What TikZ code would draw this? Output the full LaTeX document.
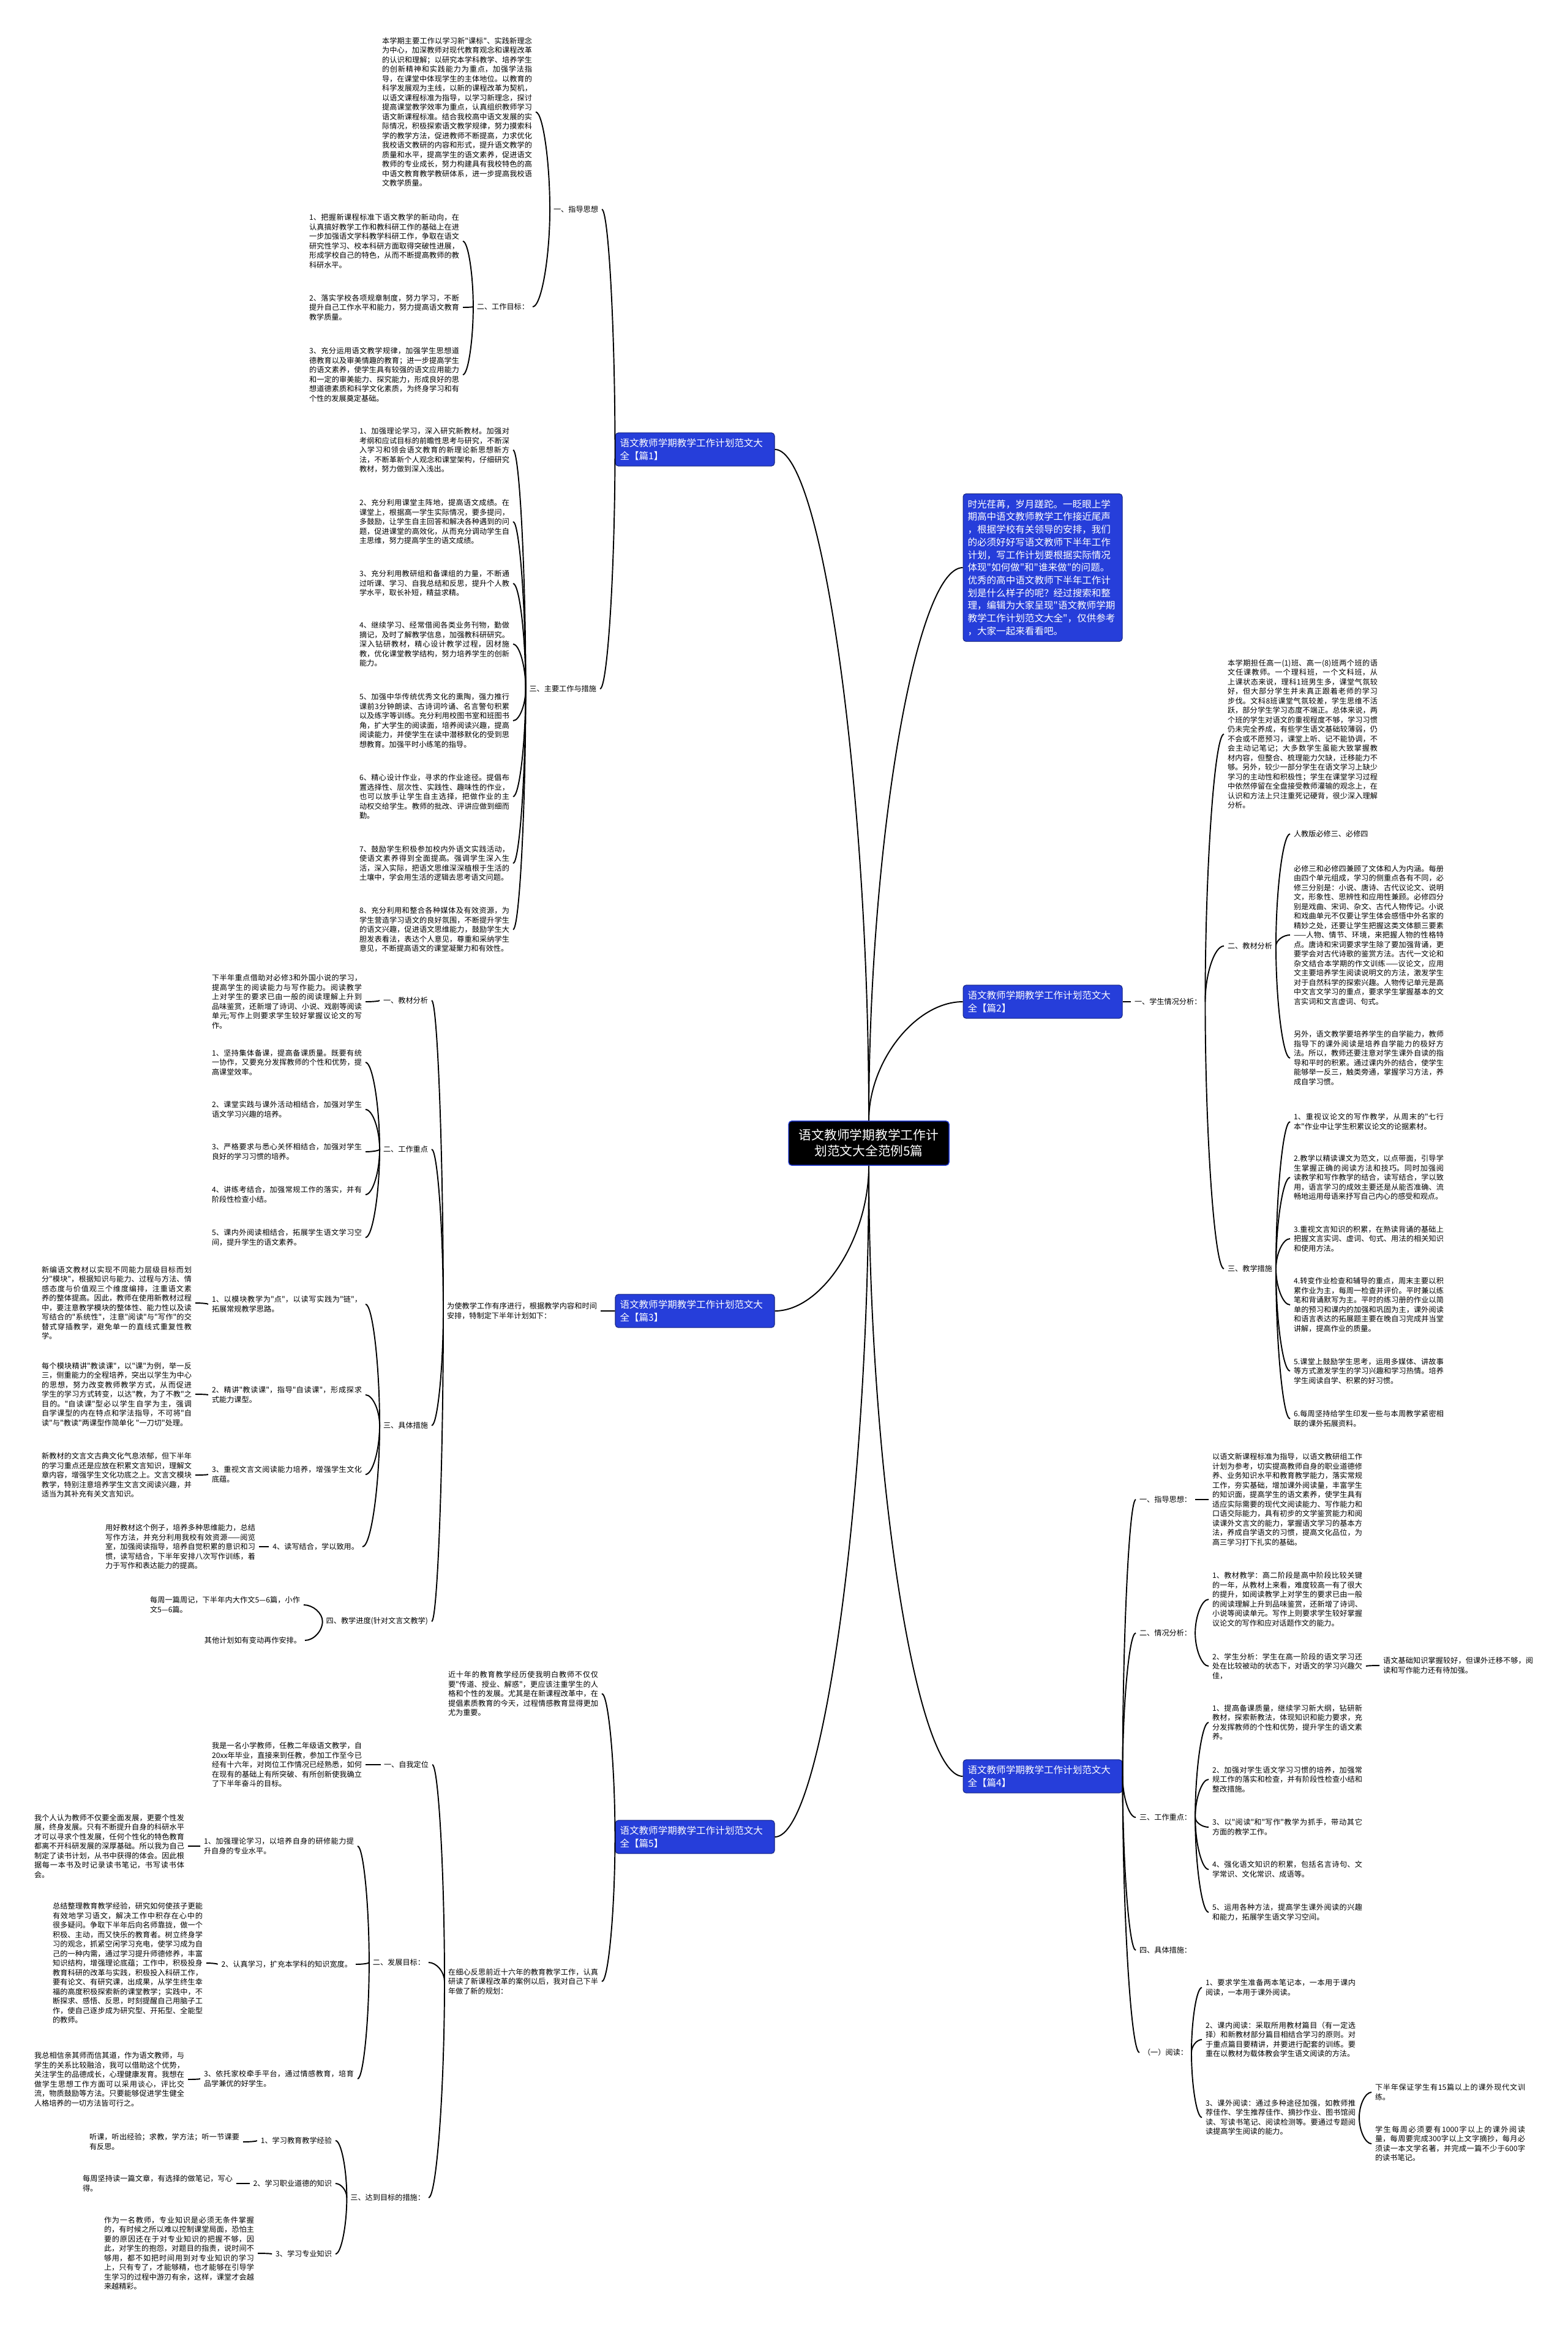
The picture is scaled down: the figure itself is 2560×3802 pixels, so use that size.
\documentclass[tikz,border=0pt]{standalone}
\usepackage{fontspec}
\setmainfont{Noto Sans CJK SC}[Ligatures=TeXOff]
\XeTeXlinebreaklocale "zh"
\XeTeXlinebreakskip = 0pt plus 0.8pt
\usetikzlibrary{calc}

\definecolor{boxblue}{RGB}{38,62,218}
\definecolor{boxedge}{RGB}{20,36,130}

% curved link: leaves the parent vertically, enters the child horizontally
\newcommand{\linkto}[2]{%
  \draw[conn] (#1) .. controls ($(#1)!0.5!(#1|-#2)$) and ($(#2)!0.5!(#1|-#2)$) .. (#2);}

\begin{document}
\begin{tikzpicture}[x=0.1mm, y=-0.1mm,
  txt/.style={inner sep=0pt, outer sep=0.6mm, text width=24.5mm, align=justify,
              font=\fontsize{3.46pt}{4.41pt}\selectfont},
  lbl/.style={inner sep=0pt, outer sep=0.6mm, font=\fontsize{3.46pt}{4.41pt}\selectfont},
  bluebox/.style={draw=boxedge, fill=boxblue, text=white, rounded corners=0.5mm,
              line width=0.3pt, inner xsep=0.75mm, inner ysep=0.95mm,
              text width=24.5mm, align=left, font=\fontsize{4.43pt}{5.9pt}\selectfont},
  rootbox/.style={draw=boxblue, fill=black, text=white, rounded corners=0.5mm,
              line width=0.4pt, inner xsep=1.7mm, inner ysep=1.35mm, align=center,
              font=\fontsize{5.9pt}{7.4pt}\selectfont},
  conn/.style={line width=0.55pt, black}]
  \useasboundingbox (0,0) rectangle (2560,3802);
  \fill[white] (0,0) rectangle (2560,3802);

  % root and the six first-level boxes
  \node[rootbox] (root) at (1419,1867) {语文教师学期教学工作计\\划范文大全范例5篇};
  \node[bluebox] (b1) at (1135,734) {语文教师学期教学工作计划范文大\\全【篇1】};
  \node[bluebox] (intro) at (1703,927) {时光荏苒，岁月蹉跎。一眨眼上学\\期高中语文教师教学工作接近尾声\\，根据学校有关领导的安排，我们\\的必须好好写语文教师下半年工作\\计划，写工作计划要根据实际情况\\体现"如何做"和"谁来做"的问题。\\优秀的高中语文教师下半年工作计\\划是什么样子的呢？经过搜索和整\\理，编辑为大家呈现"语文教师学期\\教学工作计划范文大全"，仅供参考\\，大家一起来看看吧。};
  \node[bluebox] (b2) at (1703,1636) {语文教师学期教学工作计划范文大\\全【篇2】};
  \node[bluebox] (b3) at (1135,2141) {语文教师学期教学工作计划范文大\\全【篇3】};
  \node[bluebox] (b4) at (1703,2901) {语文教师学期教学工作计划范文大\\全【篇4】};
  \node[bluebox] (b5) at (1135,3000) {语文教师学期教学工作计划范文大\\全【篇5】};

  \linkto{root.north}{b1.east}
  \linkto{root.north}{intro.west}
  \linkto{root.north}{b2.west}
  \linkto{root.south}{b3.east}
  \linkto{root.south}{b4.west}
  \linkto{root.south}{b5.east}

  % Left top: 篇1
  \node[lbl, anchor=east] (t1a) at (983,342) {一、指导思想};
  \node[txt, anchor=east] (p1a) at (875,183) {本学期主要工作以学习新"课标"、实践新理念为中心，加深教师对现代教育观念和课程改革的认识和理解；以研究本学科教学、培养学生的创新精神和实践能力为重点，加强学法指导，在课堂中体现学生的主体地位。以教育的科学发展观为主线，以新的课程改革为契机，以语文课程标准为指导，以学习新理念，探讨提高课堂教学效率为重点，认真组织教师学习语文新课程标准。结合我校高中语文发展的实际情况，积极探索语文教学规律，努力摸索科学的教学方法，促进教师不断提高，力求优化我校语文教研的内容和形式，提升语文教学的质量和水平，提高学生的语文素养，促进语文教师的专业成长，努力构建具有我校特色的高中语文教育教学教研体系，进一步提高我校语文教学质量。};
  \node[lbl, anchor=east] (t1b) at (870,501) {二、工作目标：};
  \node[txt, anchor=east] (i1b1) at (756,394) {1、把握新课程标准下语文教学的新动向，在认真搞好教学工作和教科研工作的基础上在进一步加强语文学科教学科研工作，争取在语文研究性学习、校本科研方面取得突破性进展，形成学校自己的特色，从而不断提高教师的教科研水平。};
  \node[txt, anchor=east] (i1b2) at (756,502) {2、落实学校各项规章制度，努力学习，不断提升自己工作水平和能力，努力提高语文教育教学质量。};
  \node[txt, anchor=east] (i1b3) at (756,612) {3、充分运用语文教学规律，加强学生思想道德教育以及审美情趣的教育；进一步提高学生的语文素养，使学生具有较强的语文应用能力和一定的审美能力、探究能力，形成良好的思想道德素质和科学文化素质，为终身学习和有个性的发展奠定基础。};
  \node[lbl, anchor=east] (t1c) at (980,1125) {三、主要工作与措施};
  \node[txt, anchor=east] (i1c1) at (838,735) {1、加强理论学习，深入研究新教材。加强对考纲和应试目标的前瞻性思考与研究，不断深入学习和领会语文教育的新理论新思想新方法，不断革新个人观念和课堂架构，仔细研究教材，努力做到深入浅出。};
  \node[txt, anchor=east] (i1c2) at (838,852) {2、充分利用课堂主阵地，提高语文成绩。在课堂上，根据高一学生实际情况，要多提问，多鼓励，让学生自主回答和解决各种遇到的问题，促进课堂的高效化，从而充分调动学生自主思维，努力提高学生的语文成绩。};
  \node[txt, anchor=east] (i1c3) at (838,953) {3、充分利用教研组和备课组的力量，不断通过听课、学习、自我总结和反思，提升个人教学水平，取长补短，精益求精。};
  \node[txt, anchor=east] (i1c4) at (838,1052) {4、继续学习、经常借阅各类业务刊物，勤做摘记，及时了解教学信息，加强教科研研究。深入钻研教材，精心设计教学过程，因材施教，优化课堂教学结构，努力培养学生的创新能力。};
  \node[txt, anchor=east] (i1c5) at (838,1177) {5、加强中华传统优秀文化的熏陶，强力推行课前3分钟朗读、古诗词吟诵、名言警句积累以及练字等训练。充分利用校图书室和班图书角，扩大学生的阅读面，培养阅读兴趣，提高阅读能力，并使学生在读中潜移默化的受到思想教育。加强平时小练笔的指导。};
  \node[txt, anchor=east] (i1c6) at (838,1301) {6、精心设计作业，寻求的作业途径。提倡布置选择性、层次性、实践性、趣味性的作业，也可以放手让学生自主选择，把做作业的主动权交给学生。教师的批改、评讲应做到细而勤。};
  \node[txt, anchor=east] (i1c7) at (838,1410) {7、鼓励学生积极参加校内外语文实践活动，使语文素养得到全面提高。强调学生深入生活，深入实际，把语文思维深深植根于生活的土壤中，学会用生活的逻辑去思考语文问题。};
  \node[txt, anchor=east] (i1c8) at (838,1518) {8、充分利用和整合各种媒体及有效资源，为学生营造学习语文的良好氛围，不断提升学生的语文兴趣，促进语文思维能力，鼓励学生大胆发表看法，表达个人意见，尊重和采纳学生意见，不断提高语文的课堂凝聚力和有效性。};

  \linkto{b1.west}{t1a.east}
  \linkto{b1.west}{t1c.east}
  \linkto{t1a.west}{p1a.east}
  \linkto{t1a.west}{t1b.east}
  \foreach \n in {1,2,3} {\linkto{t1b.west}{i1b\n.east}}
  \foreach \n in {1,...,8} {\linkto{t1c.west}{i1c\n.east}}

  % Left middle: 篇3
  \node[txt, anchor=east] (t3) at (981,2141) {为使教学工作有序进行，根据教学内容和时间安排，特制定下半年计划如下：};
  \node[lbl, anchor=east] (t3a) at (705,1634) {一、教材分析};
  \node[txt, anchor=east] (p3a) at (597,1636) {下半年重点借助对必修3和外国小说的学习，提高学生的阅读能力与写作能力。阅读教学上对学生的要求已由一般的阅读理解上升到品味鉴赏，还新增了诗词、小说、戏剧等阅读单元;写作上则要求学生较好掌握议论文的写作。};
  \node[lbl, anchor=east] (t3b) at (705,1877) {二、工作重点};
  \node[txt, anchor=east] (i3b1) at (597,1735) {1、坚持集体备课，提高备课质量。既要有统一协作，又要充分发挥教师的个性和优势，提高课堂效率。};
  \node[txt, anchor=east] (i3b2) at (597,1812) {2、课堂实践与课外活动相结合，加强对学生语文学习兴趣的培养。};
  \node[txt, anchor=east] (i3b3) at (597,1881) {3、严格要求与悉心关怀相结合，加强对学生良好的学习习惯的培养。};
  \node[txt, anchor=east] (i3b4) at (597,1951) {4、讲练考结合，加强常规工作的落实，并有阶段性检查小结。};
  \node[txt, anchor=east] (i3b5) at (597,2021) {5、课内外阅读相结合，拓展学生语文学习空间，提升学生的语文素养。};
  \node[lbl, anchor=east] (t3c) at (705,2328) {三、具体措施};
  \node[txt, anchor=east] (i3c1) at (597,2130) {1、以模块教学为"点"，以读写实践为"链"，拓展常规教学思路。};
  \node[txt, anchor=east] (i3c2) at (597,2278) {2、精讲"教读课"，指导"自读课"，形成探求式能力课型。};
  \node[txt, anchor=east] (i3c3) at (597,2408) {3、重视文言文阅读能力培养，增强学生文化底蕴。};
  \node[lbl, anchor=east] (i3c4) at (592,2526) {4、读写结合，学以致用。};
  \node[txt, anchor=east] (p3c1) at (319,2128) {新编语文教材以实现不同能力层级目标而划分"模块"，根据知识与能力、过程与方法、情感态度与价值观三个维度编排，注重语文素养的整体提高。因此，教师在使用新教材过程中，要注意教学模块的整体性、能力性以及读写结合的"系统性"，注意"阅读"与"写作"的交替式穿插教学，避免单一的直线式重复性教学。};
  \node[txt, anchor=east] (p3c2) at (319,2277) {每个模块精讲"教读课"，以"课"为例，举一反三，侧重能力的全程培养，突出以学生为中心的思想，努力改变教师教学方式，从而促进学生的学习方式转变，以达"教，为了不教"之目的。"自读课"型必以学生自学为主，强调自学课型的内在特点和学法指导，不可将"自读"与"教读"两课型作简单化 "一刀切"处理。};
  \node[txt, anchor=east] (p3c3) at (319,2409) {新教材的文言文古典文化气息浓郁，但下半年的学习重点还是应放在积累文言知识，理解文章内容，增强学生文化功底之上。文言文模块教学，特别注意培养学生文言文阅读兴趣，并适当为其补充有关文言知识。};
  \node[txt, anchor=east] (p3c4) at (423,2526) {用好教材这个例子，培养多种思维能力，总结写作方法，并充分利用我校有效资源——阅览室，加强阅读指导，培养自觉积累的意识和习惯，读写结合，下半年安排八次写作训练，着力于写作和表达能力的提高。};
  \node[lbl, anchor=east] (t3d) at (705,2648) {四、教学进度(针对文言文教学)};
  \node[txt, anchor=east] (c3d1) at (496,2621) {每周一篇周记，下半年内大作文5—6篇，小作文5—6篇。};
  \node[lbl, anchor=east] (c3d2) at (498,2679) {其他计划如有变动再作安排。};

  \linkto{b3.west}{t3.east}
  \foreach \s in {a,b,c,d} {\linkto{t3.west}{t3\s.east}}
  \linkto{t3a.west}{p3a.east}
  \foreach \n in {1,...,5} {\linkto{t3b.west}{i3b\n.east}}
  \foreach \n in {1,...,4} {\linkto{t3c.west}{i3c\n.east} \linkto{i3c\n.west}{p3c\n.east}}
  \linkto{t3d.west}{c3d1.east}
  \linkto{t3d.west}{c3d2.east}

  % Left bottom: 篇5
  \node[txt, anchor=east] (p5a) at (983,2766) {近十年的教育教学经历使我明白教师不仅仅要"传道、授业、解惑"，更应该注重学生的人格和个性的发展。尤其是在新课程改革中，在提倡素质教育的今天，过程情感教育显得更加尤为重要。};
  \node[txt, anchor=east] (p5b) at (983,3236) {在细心反思前近十六年的教育教学工作，认真研读了新课程改革的案例以后，我对自己下半年做了新的规划：};
  \node[lbl, anchor=east] (t5a) at (706,2882) {一、自我定位};
  \node[txt, anchor=east] (c5a) at (597,2882) {我是一名小学教师，任教二年级语文教学，自20xx年毕业，直接来到任教，参加工作至今已经有十六年，对岗位工作情况已经熟悉，如何在现有的基础上有所突破、有所创新使我确立了下半年奋斗的目标。};
  \node[lbl, anchor=east] (t5b) at (700,3205) {二、发展目标：};
  \node[txt, anchor=east] (i5b1) at (584,3015) {1、加强理论学习，以培养自身的研修能力提升自身的专业水平。};
  \node[lbl, anchor=east] (i5b2) at (581,3208) {2、认真学习，扩充本学科的知识宽度。};
  \node[txt, anchor=east] (i5b3) at (584,3395) {3、依托家校牵手平台，通过情感教育，培育品学兼优的好学生。};
  \node[txt, anchor=east] (c5b1) at (307,3015) {我个人认为教师不仅要全面发展，更要个性发展，终身发展。只有不断提升自身的科研水平才可以寻求个性发展，任何个性化的特色教育都离不开科研发展的深厚基础。所以我为自己制定了读书计划，从书中获得的体会。因此根据每一本书及时记录读书笔记，书写读书体会。};
  \node[txt, anchor=east] (c5b2) at (337,3206) {总结整理教育教学经验，研究如何使孩子更能有效地学习语文，解决工作中积存在心中的很多疑问。争取下半年后向名师靠拢，做一个积极、主动，而又快乐的教育者。树立终身学习的观念，抓紧空闲学习充电，使学习成为自己的一种内需，通过学习提升师德修养，丰富知识结构，增强理论底蕴；工作中，积极投身教育科研的改革与实践，积极投入科研工作，要有论文、有研究课，出成果，从学生终生幸福的高度积极探索新的课堂教学；实践中，不断探求、感悟、反思，时刻提醒自己用脑子工作，使自己逐步成为研究型、开拓型、全能型的教师。};
  \node[txt, anchor=east] (c5b3) at (307,3396) {我总相信亲其师而信其道，作为语文教师，与学生的关系比较融洽，我可以借助这个优势，关注学生的品德成长，心理健康发育。我想在做学生思想工作方面可以采用谈心，评比交流，物质鼓励等方法。只要能够促进学生健全人格培养的一切方法皆可行之。};
  \node[lbl, anchor=east] (t5c) at (700,3589) {三、达到目标的措施：};
  \node[lbl, anchor=east] (i5c1) at (548,3496) {1、学习教育教学经验};
  \node[lbl, anchor=east] (i5c2) at (548,3566) {2、学习职业道德的知识};
  \node[lbl, anchor=east] (i5c3) at (548,3681) {3、学习专业知识};
  \node[txt, anchor=east] (c5c1) at (397,3498) {听课，听出经验；求教，学方法；听一节课要有反思。};
  \node[txt, anchor=east] (c5c2) at (386,3566) {每周坚持读一篇文章，有选择的做笔记，写心得。};
  \node[txt, anchor=east] (c5c3) at (421,3680) {作为一名教师，专业知识是必须无条件掌握的，有时候之所以难以控制课堂局面，恐怕主要的原因还在于对专业知识的把握不够，因此，对学生的抱怨，对题目的指责，说时间不够用，都不如把时间用到对专业知识的学习上，只有专了，才能够精，也才能够在引导学生学习的过程中游刃有余，这样，课堂才会越来越精彩。};

  \linkto{b5.west}{p5a.east}
  \linkto{b5.west}{p5b.east}
  \foreach \s in {a,b,c} {\linkto{p5b.west}{t5\s.east}}
  \linkto{t5a.west}{c5a.east}
  \foreach \n in {1,2,3} {\linkto{t5b.west}{i5b\n.east} \linkto{i5b\n.west}{c5b\n.east}}
  \foreach \n in {1,2,3} {\linkto{t5c.west}{i5c\n.east} \linkto{i5c\n.west}{c5c\n.east}}

  % Right upper: 篇2
  \node[lbl, anchor=west] (t2a) at (1847,1636) {一、学生情况分析：};
  \node[txt, anchor=west] (p2a) at (1999,1199) {本学期担任高一(1)班、高一(8)班两个班的语文任课教师。一个理科班，一个文科班，从上课状态来说，理科1班男生多，课堂气氛较好，但大部分学生并未真正跟着老师的学习步伐。文科8班课堂气氛较差，学生思维不活跃，部分学生学习态度不端正。总体来说，两个班的学生对语文的重视程度不够，学习习惯仍未完全养成，有些学生语文基础较薄弱，仍不会或不愿预习，课堂上听、记不能协调，不会主动记笔记；大多数学生虽能大致掌握教材内容，但整合、梳理能力欠缺，迁移能力不够。另外，较少一部分学生在语文学习上缺少学习的主动性和积极性；学生在课堂学习过程中依然停留在全盘接受教师灌输的观念上，在认识和方法上只注重死记硬背，很少深入理解分析。};
  \node[lbl, anchor=west] (t2b) at (1999,1545) {二、教材分析};
  \node[lbl, anchor=west] (t2b1) at (2107,1362) {人教版必修三、必修四};
  \node[txt, anchor=west] (p2b2) at (2107,1527) {必修三和必修四兼顾了文体和人为内涵。每册由四个单元组成，学习的侧重点各有不同，必修三分别是：小说、唐诗、古代议论文、说明文，形象性、思辨性和应用性兼顾。必修四分别是戏曲、宋词、杂文、古代人物传记。小说和戏曲单元不仅要让学生体会感悟中外名家的精妙之处，还要让学生把握这类文体额三要素——人物、情节、环境，来把握人物的性格特点。唐诗和宋词要求学生除了要加强背诵，更要学会对古代诗歌的鉴赏方法。古代一文论和杂文结合本学期的作文训练——议论文，应用文主要培养学生阅读说明文的方法，激发学生对于自然科学的探索兴趣。人物传记单元是高中文言文学习的重点，要求学生掌握基本的文言实词和文言虚词、句式。};
  \node[txt, anchor=west] (p2b3) at (2107,1728) {另外，语文教学要培养学生的自学能力，教师指导下的课外阅读是培养自学能力的极好方法。所以，教师还要注意对学生课外自读的指导和平时的积累。通过课内外的结合，使学生能够举一反三，触类旁通，掌握学习方法，养成自学习惯。};
  \node[lbl, anchor=west] (t2c) at (1999,2072) {三、教学措施};
  \node[txt, anchor=west] (i2c1) at (2107,1832) {1、重视议论文的写作教学，从周末的"七行本"作业中让学生积累议论文的论据素材。};
  \node[txt, anchor=west] (i2c2) at (2107,1923) {2.教学以精读课文为范文，以点带面，引导学生掌握正确的阅读方法和技巧。同时加强阅读教学和写作教学的结合，读写结合，学以致用，语言学习的成效主要还是从能否准确、流畅地运用母语来抒写自己内心的感受和观点。};
  \node[txt, anchor=west] (i2c3) at (2107,2023) {3.重视文言知识的积累，在熟读背诵的基础上把握文言实词、虚词、句式、用法的相关知识和使用方法。};
  \node[txt, anchor=west] (i2c4) at (2107,2131) {4.转变作业检查和辅导的重点，周末主要以积累作业为主，每周一检查并评价。平时兼以练笔和背诵默写为主。平时的练习册的作业以简单的预习和课内的加强和巩固为主，课外阅读和语言表达的拓展题主要在晚自习完成并当堂讲解，提高作业的质量。};
  \node[txt, anchor=west] (i2c5) at (2107,2239) {5.课堂上鼓励学生思考，运用多媒体、讲故事等方式激发学生的学习兴趣和学习热情。培养学生阅读自学、积累的好习惯。};
  \node[txt, anchor=west] (i2c6) at (2107,2317) {6.每周坚持给学生印发一些与本周教学紧密相联的课外拓展资料。};

  \linkto{b2.east}{t2a.west}
  \foreach \s in {p2a,t2b,t2c} {\linkto{t2a.east}{\s.west}}
  \foreach \s in {t2b1,p2b2,p2b3} {\linkto{t2b.east}{\s.west}}
  \foreach \n in {1,...,6} {\linkto{t2c.east}{i2c\n.west}}

  % Right lower: 篇4
  \node[lbl, anchor=west] (t4a) at (1855,2449) {一、指导思想：};
  \node[txt, anchor=west] (c4a) at (1974,2449) {以语文新课程标准为指导，以语文教研组工作计划为参考，切实提高教师自身的职业道德修养、业务知识水平和教育教学能力，落实常规工作，夯实基础，增加课外阅读量，丰富学生的知识面，提高学生的语文素养，使学生具有适应实际需要的现代文阅读能力、写作能力和口语交际能力，具有初步的文学鉴赏能力和阅读课外文言文的能力，掌握语文学习的基本方法，养成自学语文的习惯，提高文化品位，为高三学习打下扎实的基础。};
  \node[lbl, anchor=west] (t4b) at (1855,2667) {二、情况分析：};
  \node[txt, anchor=west] (i4b1) at (1974,2612) {1、教材教学：高二阶段是高中阶段比较关键的一年，从教材上来看，难度较高一有了很大的提升，如阅读教学上对学生的要求已由一般的阅读理解上升到品味鉴赏，还新增了诗词、小说等阅读单元。写作上则要求学生较好掌握议论文的写作和应对话题作文的能力。};
  \node[txt, anchor=west] (i4b2) at (1974,2721) {2、学生分析：学生在高一阶段的语文学习还处在比较被动的状态下，对语文的学习兴趣欠佳，};
  \node[txt, anchor=west] (c4b2) at (2253,2720) {语文基础知识掌握较好，但课外迁移不够，阅读和写作能力还有待加强。};
  \node[lbl, anchor=west] (t4c) at (1855,2968) {三、工作重点：};
  \node[txt, anchor=west] (i4c1) at (1974,2813) {1、提高备课质量，继续学习新大纲，钻研新教材，探索新教法，体现知识和能力要求，充分发挥教师的个性和优势，提升学生的语文素养。};
  \node[txt, anchor=west] (i4c2) at (1974,2906) {2、加强对学生语文学习习惯的培养，加强常规工作的落实和检查，并有阶段性检查小结和整改措施。};
  \node[txt, anchor=west] (i4c3) at (1974,2984) {3、以"阅读"和"写作"教学为抓手，带动其它方面的教学工作。};
  \node[txt, anchor=west] (i4c4) at (1974,3053) {4、强化语文知识的积累，包括名言诗句、文学常识、文化常识、成语等。};
  \node[txt, anchor=west] (i4c5) at (1974,3123) {5、运用各种方法，提高学生课外阅读的兴趣和能力，拓展学生语文学习空间。};
  \node[lbl, anchor=west] (t4d) at (1855,3185) {四、具体措施：};
  \node[lbl, anchor=west] (t4e) at (1861,3352) {（一）阅读：};
  \node[txt, anchor=west] (i4e1) at (1963,3246) {1、要求学生准备两本笔记本，一本用于课内阅读，一本用于课外阅读。};
  \node[txt, anchor=west] (i4e2) at (1963,3331) {2、课内阅读：采取所用教材篇目（有一定选择）和新教材部分篇目相结合学习的原则。对于重点篇目要精讲，并要进行配套的训练。要重在以教材为载体教会学生语文阅读的方法。};
  \node[txt, anchor=west] (i4e3) at (1963,3458) {3、课外阅读：通过多种途径加强，如教师推荐佳作、学生推荐佳作、摘抄作业、图书馆阅读、写读书笔记、阅读检测等。要通过专题阅读提高学生阅读的能力。};
  \node[txt, anchor=west] (c4e1) at (2240,3417) {下半年保证学生有15篇以上的课外现代文训练。};
  \node[txt, anchor=west] (c4e2) at (2240,3501) {学生每周必须要有1000字以上的课外阅读量，每周要完成300字以上文字摘抄，每月必须读一本文学名著，并完成一篇不少于600字的读书笔记。};

  \foreach \s in {t4a,t4b,t4c,t4d,t4e} {\linkto{b4.east}{\s.west}}
  \linkto{t4a.east}{c4a.west}
  \linkto{t4b.east}{i4b1.west}
  \linkto{t4b.east}{i4b2.west}
  \linkto{i4b2.east}{c4b2.west}
  \foreach \n in {1,...,5} {\linkto{t4c.east}{i4c\n.west}}
  \foreach \n in {1,2,3} {\linkto{t4e.east}{i4e\n.west}}
  \linkto{i4e3.east}{c4e1.west}
  \linkto{i4e3.east}{c4e2.west}
\end{tikzpicture}
\end{document}
